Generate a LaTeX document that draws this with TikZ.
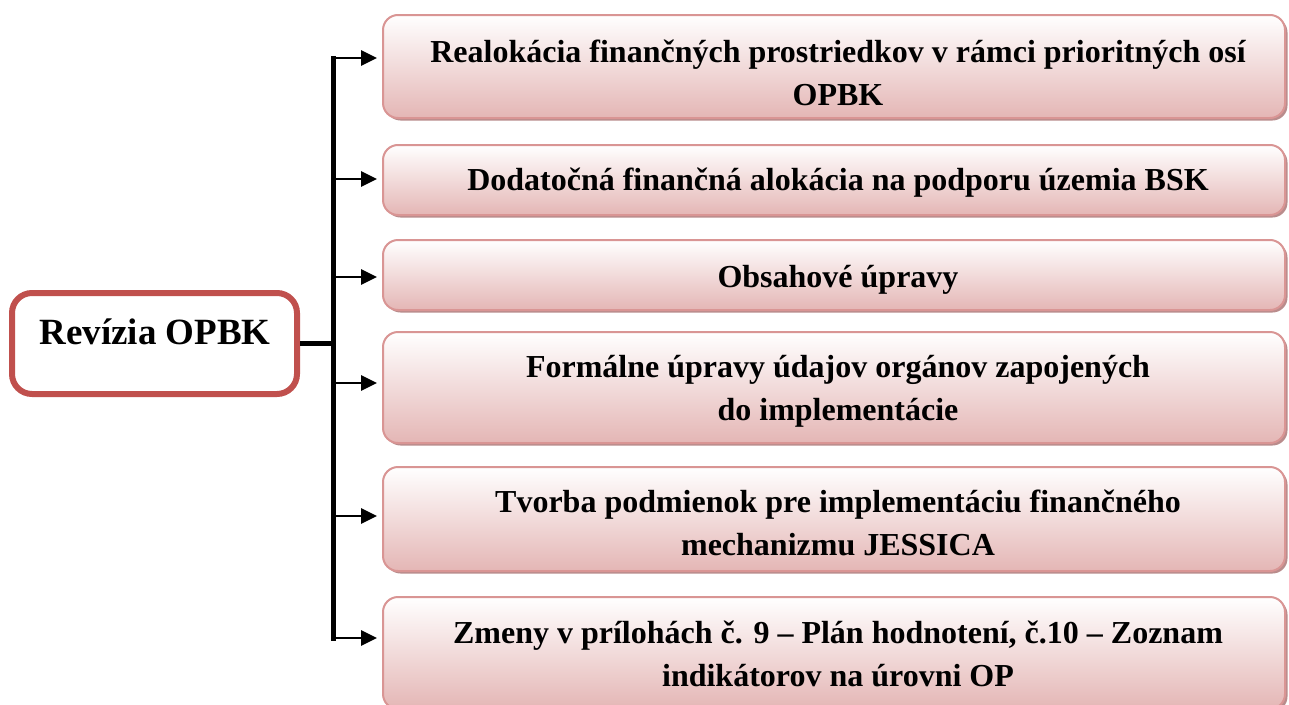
\documentclass[tikz,border=0pt]{standalone}
\usepackage{fontspec}
\setmainfont{Liberation Serif}
\usetikzlibrary{arrows.meta,shadows,calc}
\definecolor{boxtop}{RGB}{255,255,255}
\definecolor{boxbot}{RGB}{228,182,181}
\definecolor{boxline}{RGB}{217,149,148}
\definecolor{boxshadow}{RGB}{185,140,140}
\definecolor{mainred}{RGB}{192,80,77}
\tikzset{
  itembox/.style={rectangle, rounded corners=15pt, draw=boxline, line width=2pt,
    top color=boxtop, bottom color=boxbot, minimum width=902pt, inner sep=0pt,
    drop shadow={shadow xshift=2.5pt, shadow yshift=-2.5pt, fill=boxshadow, opacity=1}},
  itemtext/.style={anchor=base, align=center, inner sep=0pt,
    font=\fontsize{32}{43}\selectfont\bfseries},
  mainbox/.style={rectangle, rounded corners=20pt, draw=mainred, line width=6pt,
    fill=white, minimum width=285pt, minimum height=101pt, inner sep=0pt},
  trunk/.style={line width=5pt},
  arr/.style={line width=2.8pt, -{Triangle[length=16pt,width=15pt]}, shorten >=5pt}
}
\begin{document}
\begin{tikzpicture}[x=1pt,y=-1pt]
\useasboundingbox (0,0) rectangle (1289,704);
\clip (0,0) rectangle (1289,704);
% main box
\node[mainbox] (main) at (154.5,343.5) {};
\node[anchor=base, inner sep=0pt, font=\fontsize{37}{44}\selectfont\bfseries] (maintext) at (155,344) {Revízia OPBK};
% item boxes
\node[itembox, minimum height=103pt] (b1) at (834,66.5) {};
\node[itembox, minimum height=70pt] (b2) at (834,180) {};
\node[itembox, minimum height=70pt] (b3) at (834,275) {};
\node[itembox, minimum height=111pt] (b4) at (834,387.5) {};
\node[itembox, minimum height=104pt] (b5) at (834,519) {};
\node[itembox, minimum height=112pt] (b6) at (834,653) {};
% texts (base anchor = baseline of last line)
\node[itemtext] (t1) at (838,105) {Realokácia finančných prostriedkov v rámci prioritných osí\\OPBK};
\node[itemtext] (t2) at (838,190) {Dodatočná finančná alokácia na podporu územia BSK};
\node[itemtext] (t3) at (838,287) {Obsahové úpravy};
\node[itemtext] (t4) at (838,420) {Formálne úpravy údajov orgánov zapojených\\do implementácie};
\node[itemtext] (t5) at (838,555) {Tvorba podmienok pre implementáciu finančného\\mechanizmu JESSICA};
\node[itemtext] (t6) at (838,686) {Zmeny v prílohách č. 9 – Plán hodnotení, č.10 – Zoznam\\indikátorov na úrovni OP};
% connectors
\coordinate (jt) at (333,58);
\coordinate (jb) at (333,638);
\draw[trunk] (main.east) -- (main.east -| jt);
\draw[trunk, line cap=rect] (jt) -- (jb);
\draw[arr] (jt) -- (b1.west |- jt);
\draw[arr] (333,179) coordinate (j2) -- (b2.west |- j2);
\draw[arr] (333,277) coordinate (j3) -- (b3.west |- j3);
\draw[arr] (333,383) coordinate (j4) -- (b4.west |- j4);
\draw[arr] (333,516) coordinate (j5) -- (b5.west |- j5);
\draw[arr] (jb) -- (b6.west |- jb);
\end{tikzpicture}
\end{document}
